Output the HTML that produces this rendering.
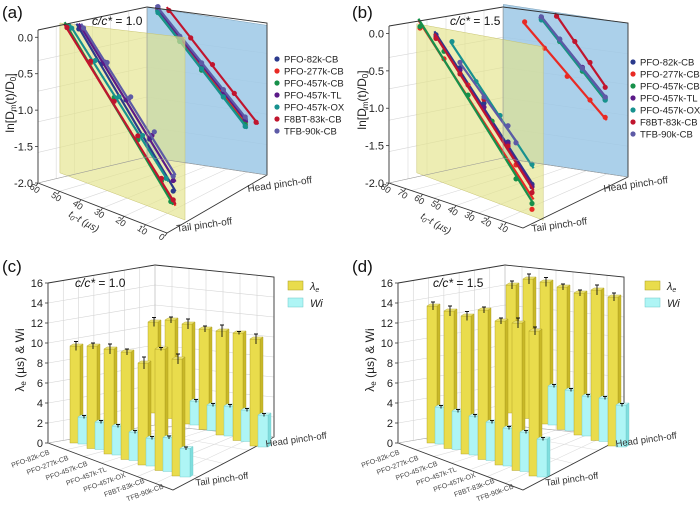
<!DOCTYPE html>
<html><head><meta charset="utf-8"><style>
html,body{margin:0;padding:0;background:#fff;}
svg{display:block;font-family:"Liberation Sans",sans-serif;}
</style></head><body>
<svg id="fig" width="700" height="506" viewBox="0 0 700 506"></svg>
<script>
const NS='http://www.w3.org/2000/svg';
const svg=document.getElementById('fig');
// ---------- data ----------
const seriesNames=['PFO-82k-CB','PFO-277k-CB','PFO-457k-CB','PFO-457k-TL','PFO-457k-OX','F8BT-83k-CB','TFB-90k-CB'];
const seriesColors=['#2b3a8c','#e82a24','#17904a','#5b1a88','#17918f','#c0152e','#5d5aa6'];
// panel a, tail pinch-off plane
const aTailT=[[45,35,25,15,5],[50,40,30,20,10,5],[50,40,30,20,10,6],[44,34,24,14,5],[48,38,28,18,8],[50,40,30,20,10,5],[43,33,23,13,5]];
const aTailV=[[0.0,-0.4,-0.8,-1.2,-1.72],[0.0,-0.42,-0.82,-1.22,-1.62,-1.85],[0.02,-0.4,-0.8,-1.25,-1.65,-1.85],[0.02,-0.38,-0.78,-1.15,-1.6],[0.0,-0.38,-0.78,-1.18,-1.6],[0.0,-0.4,-0.85,-1.2,-1.62,-1.82],[0.02,-0.38,-0.75,-1.1,-1.55]];
// panel a, head pinch-off plane
const aHeadT=[[50,40,30,20,10],[50,40,30,20,10],[50,40,30,20,10],[50,40,30,20,10],[50,40,30,20,10],[45,35,25,15,5],[50,40,30,20,10]];
const aHeadV=[[0.05,-0.3,-0.62,-0.95,-1.3],[0.02,-0.33,-0.66,-1.0,-1.33],[0.0,-0.35,-0.7,-1.02,-1.35],[0.05,-0.3,-0.62,-0.95,-1.28],[0.0,-0.35,-0.68,-1.02,-1.38],[0.05,-0.28,-0.6,-0.95,-1.3],[0.08,-0.28,-0.6,-0.92,-1.25]];
// panel b, tail plane
const bTailT=[[70,55,40,25,10],[80,65,50,35,20,10],[80,65,50,35,20,10],[70,55,40,25,10],[60,45,30,10],[70,55,40,25,10],[55,40,25,20]];
const bTailV=[[-0.05,-0.42,-0.8,-1.2,-1.62],[0.0,-0.35,-0.62,-1.0,-1.45,-1.92],[0.02,-0.25,-0.75,-1.0,-1.62,-1.85],[-0.08,-0.45,-0.85,-1.22,-1.65],[-0.1,-0.55,-0.9,-1.38],[-0.1,-0.5,-0.75,-1.25,-1.72],[-0.35,-0.72,-1.0,-1.18]];
// panel b, head plane
const bHeadT=[[57,45,30,15],[68,55,40,25,15],[57,45,30,15],[57,45,30,15],[57,45,30,15],[47,35,25,15],[57,45,30,15]];
const bHeadV=[[-0.05,-0.3,-0.65,-1.0],[-0.14,-0.45,-0.78,-1.05,-1.25],[-0.07,-0.33,-0.68,-1.02],[-0.05,-0.3,-0.63,-0.98],[-0.08,-0.32,-0.66,-1.02],[0.0,-0.3,-0.55,-0.85],[-0.04,-0.3,-0.64,-0.98]];
// panels c,d bars
const cTailLam=[9.7,10.25,10.5,10.75,10.2,12.15,11.7];
const cTailWi=[2.7,2.75,2.9,2.85,2.8,3.4,2.85];
const cHeadLam=[9.1,9.85,10.0,10.05,10.4,10.75,10.7];
const cHeadWi=[2.4,2.45,2.4,2.55,3.0,3.15,3.2];
const cLamErr=[0.45,0.3,0.5,0.3,0.6,0.15,0.5];
const dTailLam=[13.7,13.75,13.8,14.95,14.4,14.75,14.5];
const dTailWi=[3.7,3.85,3.9,3.85,3.8,3.95,3.8];
const dHeadLam=[12.8,13.95,14.2,14.25,14.2,15.05,14.9];
const dHeadWi=[3.3,3.65,3.9,4.05,4.0,4.35,4.2];
const dLamErr=[0.4,0.5,0.45,0.3,0.3,0.5,0.4];
const barTicks=[0,2,4,6,8,10,12,14,16];
const lnTicks=[0.0,-0.5,-1.0,-1.5,-2.0];
const aTimeTicks=[60,50,40,30,20,10,0];
const bTimeTicks=[80,70,60,50,40,30,20,10];

function mk(tag,attrs,parent){const e=document.createElementNS(NS,tag);for(const k in attrs)e.setAttribute(k,attrs[k]);(parent||svg).appendChild(e);return e;}
function txt(s,attrs,parent){const e=mk('text',attrs,parent);e.textContent=s;return e;}
function line(x1,y1,x2,y2,st,w,parent){return mk('line',{x1,y1,x2,y2,stroke:st,'stroke-width':w||1},parent);}

// ---------- 3D line panels (a),(b) ----------
function linePanel(P){
  const g=mk('g',{});
  
  
  const B=P.box;
  const grid=mk('g',{stroke:'#d8d8d8','stroke-width':0.6},g);
  
  
  for(let k=0;k<=5;k++){const f=k/5;
    const yl=B.yTop+(B.yBot-B.yTop)*f, yb=B.bTop+(B.bBot-B.bTop)*f, yr=B.rTop+(B.rBot-B.rTop)*f;
    line(B.x0,yl,B.xb,yb,'#d8d8d8',0.6,grid);line(B.xb,yb,B.xr,yr,'#d8d8d8',0.6,grid);}
  for(let k=1;k<6;k++){const f=k/6;
    line(B.x0+(B.xb-B.x0)*f,B.yTop+(B.bTop-B.yTop)*f,B.x0+(B.xb-B.x0)*f,B.yBot+(B.bBot-B.yBot)*f,'#d8d8d8',0.6,grid);
    line(B.x0+(B.xf-B.x0)*f,B.yBot+(B.fy-B.yBot)*f,B.xb+(B.xr-B.xb)*f,B.bBot+(B.rBot-B.bBot)*f,'#d8d8d8',0.6,grid);}
  const hp=[[P.tmax,0.05],[0,0.05],[0,-2],[P.tmax,-2]].map(q=>P.proj(q[0],q[1],1).join(',')).join(' ');
  const blue=mk('polygon',{points:hp,fill:'#9cc8e6','fill-opacity':0.85,stroke:'#7a9fb8','stroke-width':0.5},g);
  
  
  drawSeries(g,P,P.headT,P.headV,1);
  const tp=[[P.tmaxT,0.05],[P.tminT,0.05],[P.tminT,-2],[P.tmaxT,-2]].map(q=>P.proj(q[0],q[1],0).join(',')).join(' ');
  const yel=mk('polygon',{points:tp,fill:'#e3e38a','fill-opacity':0.65,stroke:'#c8c470','stroke-width':0.5},g);
  
  
  drawSeries(g,P,P.tailT,P.tailV,0);
  const ax=mk('g',{stroke:'#333','stroke-width':0.9,fill:'none'},g);
  
  
  mk('polyline',{points:`${B.x0},${B.yTop} ${B.xb},${B.bTop} ${B.xr},${B.rTop} ${B.xr},${B.rBot} ${B.xf},${B.fy} ${B.x0},${B.yBot} ${B.x0},${B.yTop}`},ax);
  mk('polyline',{points:`${B.x0},${B.yBot} ${B.xb},${B.bBot} ${B.xr},${B.rBot}`,stroke:'#999','stroke-width':0.6},ax);
  line(B.xb,B.bTop,B.xb,B.bBot,'#999',0.6,ax);
  lnTicks.forEach((v,i)=>{const y=B.yTop+(B.yBot-B.yTop)*(0.1-v)/2.1;
    line(B.x0-3,y,B.x0,y,'#333',0.8,g);
    const t=txt(v.toFixed(1),{x:B.x0-5,y:y+4,'font-size':11,'text-anchor':'end',fill:'#222'},g);
    
    });
  const tt=P.timeTicks, tm=tt[0];
  tt.forEach(t=>{const f=(tm-t)/tm;const x=B.x0+(B.xf-B.x0)*f, y=B.yBot+(B.fy-B.yBot)*f;
    line(x,y,x-2,y+3,'#333',0.8,g);
    const lx=x-9,ly=y+5;
    const e=txt(String(t),{x:lx,y:ly,'font-size':9,fill:'#333',transform:`rotate(35 ${lx} ${ly})`},g);
    
    });
  const xt=txt('t',{x:P.xtx,y:P.xty,'font-size':10,'font-style':'italic',fill:'#333',transform:`rotate(30 ${P.xtx} ${P.xty})`},g);
  
  
  const ts1=mk('tspan',{'font-size':7,dy:2},xt);ts1.textContent='0';
  const ts2=mk('tspan',{dy:-2},xt);ts2.textContent='-t (µs)';
  const tl=txt('Tail pinch-off',{x:P.tailLx,y:P.tailLy,'font-size':10,fill:'#333',transform:`rotate(-8 ${P.tailLx} ${P.tailLy})`},g);
  
  
  const hl=txt('Head pinch-off',{x:P.headLx,y:P.headLy,'font-size':10,fill:'#333',transform:`rotate(-8 ${P.headLx} ${P.headLy})`},g);
  
  
  const yt=txt('',{x:P.ytx,y:P.yty,'font-size':12,fill:'#222','text-anchor':'middle',transform:`rotate(-90 ${P.ytx} ${P.yty})`},g);
  
  
  [['ln[D',0],['m',2],['(t)/D',-2],['0',2],[']',-2]].forEach(p=>{const s=mk('tspan',{dy:p[1]},yt);if(p[0]=='m'||p[0]=='0')s.setAttribute('font-size',8);s.textContent=p[0];});
  const pl=txt(P.letter,{x:P.ox+2,y:18,'font-size':17,fill:'#111'},g);
  
  
  const ti=txt('',{x:P.titx,y:25,'font-size':12,fill:'#111'},g);
  
  
  const a1=mk('tspan',{'font-style':'italic'},ti);a1.textContent='c/c*';
  const a2=mk('tspan',{},ti);a2.textContent=' = '+P.conc;
  seriesNames.forEach((n,i)=>{const y=P.legY+i*12;
    const c=mk('circle',{cx:P.legX,cy:y,r:2.6,fill:seriesColors[i]},g);
    
    
    const t=txt(n,{x:P.legX+7,y:y+3.5,'font-size':9.5,fill:'#222'},g);
    
    });
}
function drawSeries(g,P,T,V,row){
  T.forEach((ts,i)=>{
    const vs=V[i];const n=ts.length;
    let mt=0,mv=0;for(let k=0;k<n;k++){mt+=ts[k];mv+=vs[k];}mt/=n;mv/=n;
    let sxy=0,sxx=0;for(let k=0;k<n;k++){sxy+=(ts[k]-mt)*(vs[k]-mv);sxx+=(ts[k]-mt)**2;}
    const b=sxy/sxx,a=mv-b*mt;
    const t0=Math.max(...ts)+1,t1=Math.min(...ts)-1;
    const p0=P.proj(t0,a+b*t0,row),p1=P.proj(t1,a+b*t1,row);
    const l=line(p0[0],p0[1],p1[0],p1[1],seriesColors[i],2.2,g);
    
    
    ts.forEach((t,k)=>{const p=P.proj(t,vs[k],row);
      const c=mk('circle',{cx:p[0],cy:p[1],r:2.6,fill:seriesColors[i]},g);
      
      });
  });
}
linePanel({name:'panel-a',letter:'(a)',conc:'1.0',ox:0,titx:92,tmax:55,tmaxT:53,tminT:0,
  proj:(t,v,r)=>r==0?[185-2.36*t,220-0.89*t-(v+2)*(89-0.3*t)]:[267-2.18*t,175-0.33*t-(v+2)*73],
  tailT:aTailT,tailV:aTailV,headT:aHeadT,headV:aHeadV,timeTicks:aTimeTicks,
  box:{x0:38,yTop:30,yBot:183,xb:147,bTop:7,bBot:157,xr:267,rTop:23,rBot:175,xf:167,fy:233},
  xtx:68,xty:216,tailLx:177,tailLy:232,headLx:248,headLy:192,ytx:14,yty:103,legX:277,legY:59});
linePanel({name:'panel-b',letter:'(b)',conc:'1.5',ox:350,titx:450,tmax:82,tmaxT:82,tminT:3,
  proj:(t,v,r)=>r==0?[548-1.6*t,222-0.6*t-(v+2)*(85-0.15*t)]:[628-1.52*t,177-0.23*t-(v+2)*75],
  tailT:bTailT,tailV:bTailV,headT:bHeadT,headV:bHeadV,timeTicks:bTimeTicks,
  box:{x0:389,yTop:26,yBot:183,xb:503,bTop:7,bBot:158,xr:628,rTop:23,rBot:177,xf:523,fy:228},
  xtx:420,xty:218,tailLx:532,tailLy:232,headLx:604,headLy:192,ytx:366,yty:100,legX:633,legY:62});

// ---------- 3D bar panels (c),(d) ----------
function barPanel(P){
  const g=mk('g',{});
  
  
  const o=P.ox, yv=v=>v*10;
  barTicks.forEach(v=>{
    line(o+48,443-yv(v),o+155,425-yv(v),'#d4d4d4',0.6,g);
    line(o+155,425-yv(v),o+274,437-yv(v),'#d4d4d4',0.6,g);});
  for(let k=1;k<7;k++){const f=k/7;
    line(o+48+107*f,283-18*f,o+48+107*f,443-18*f,'#d4d4d4',0.6,g);
    line(o+155+119*f,265+12*f,o+155+119*f,425+12*f,'#d4d4d4',0.6,g);
    line(o+48+125*f,443+47*f,o+155+119*f,425+12*f,'#dcdcdc',0.6,g);}
  for(let k=1;k<4;k++){const f=k/4;
    line(o+48+107*f,443-18*f,o+173+101*f,490-53*f,'#dcdcdc',0.6,g);}
  const ax=mk('g',{stroke:'#333','stroke-width':0.9,fill:'none'},g);
  
  
  mk('polyline',{points:`${o+48},283 ${o+155},265 ${o+274},277 ${o+274},437 ${o+173},490 ${o+48},443 ${o+48},283`},ax);
  mk('polyline',{points:`${o+48},443 ${o+155},425 ${o+274},437`,stroke:'#aaa','stroke-width':0.6},ax);
  line(o+155,265,o+155,425,'#aaa',0.6,ax);
  barTicks.forEach(v=>{const y=443-yv(v);
    line(o+45,y,o+48,y,'#333',0.8,g);
    const t=txt(String(v),{x:o+43,y:y+4,'font-size':11,'text-anchor':'end',fill:'#222'},g);
    
    });
  function bar(x,yb,v,w,front,side,top,edge,err){
    const h=yv(v),d=[3,-2];
    const s=mk('polygon',{points:`${x+w},${yb-h} ${x+w+d[0]},${yb-h+d[1]} ${x+w+d[0]},${yb+d[1]} ${x+w},${yb}`,fill:side,stroke:edge,'stroke-width':0.4},g);
    
    
    const r=mk('rect',{x,y:yb-h,width:w,height:h,fill:front,stroke:edge,'stroke-width':0.4},g);
    
    
    const tp=mk('polygon',{points:`${x},${yb-h} ${x+d[0]},${yb-h+d[1]} ${x+w+d[0]},${yb-h+d[1]} ${x+w},${yb-h}`,fill:top,stroke:edge,'stroke-width':0.4},g);
    
    
    const cx=x+w/2+1,e=yv(err);
    const eb=mk('path',{d:`M${cx},${yb-h-e}V${yb-h+e}M${cx-2},${yb-h-e}H${cx+2}`,stroke:'#111','stroke-width':0.9,fill:'none'},g);
    
    
  }
  const Y=['#e9dc4c','#c8b828','#f3ea7a','#a89a20'],C=['#aef5f5','#80dede','#d2fbfb','#6cc8c8'];
  for(let i=0;i<7;i++){const x=o+P.x0+P.hdx+i*17,yb=413+i*5.5;
    bar(x,yb,P.hLam[i],10,...Y,P.err[i]);bar(x+8,yb+1,P.hWi[i],10,...C,0.15);}
  for(let i=0;i<7;i++){const x=o+P.x0+i*17,yb=443+i*5.5;
    bar(x,yb,P.tLam[i],10,...Y,P.err[i]);bar(x+8,yb+1,P.tWi[i],10,...C,0.15);}
  seriesNames.forEach((n,i)=>{const x=o+50+i*19,y=454+i*5.7;
    const t=txt(n,{x,y,'font-size':7,'text-anchor':'end',fill:'#444',transform:`rotate(-20 ${x} ${y})`},g);
    
    });
  const tl=txt('Tail pinch-off',{x:o+196,y:486,'font-size':9.5,fill:'#333',transform:`rotate(-8 ${o+196} 486)`},g);
  
  
  const hl=txt('Head pinch-off',{x:o+266,y:447,'font-size':9.5,fill:'#333',transform:`rotate(-8 ${o+266} 447)`},g);
  
  
  const yt=txt('',{x:o+24,y:360,'font-size':12,fill:'#222','text-anchor':'middle',transform:`rotate(-90 ${o+24} 360)`},g);
  
  
  [['λ',0],['e',2],[' (µs) & Wi',-2]].forEach(p=>{const s=mk('tspan',{dy:p[1]},yt);if(p[0]=='e')s.setAttribute('font-size',8);s.textContent=p[0];});
  const pl=txt(P.letter,{x:o+2,y:272,'font-size':17,fill:'#111'},g);
  
  
  const ti=txt('',{x:o+P.titx,y:287,'font-size':12,fill:'#111'},g);
  
  
  const a1=mk('tspan',{'font-style':'italic'},ti);a1.textContent='c/c*';
  const a2=mk('tspan',{},ti);a2.textContent=' = '+P.conc;
  const lx=o+P.legx;
  const s1=mk('rect',{x:lx,y:281,width:15,height:9,fill:'#e9dc4c',stroke:'#a89a20','stroke-width':0.5},g);
  
  
  const t1=txt('',{x:lx+22,y:290,'font-size':11,'font-style':'italic',fill:'#222'},g);
  
  
  const u1=mk('tspan',{},t1);u1.textContent='λ';const u2=mk('tspan',{'font-size':7,dy:2},t1);u2.textContent='e';
  const s2=mk('rect',{x:lx,y:298,width:15,height:9,fill:'#aef5f5',stroke:'#6cc8c8','stroke-width':0.5},g);
  
  
  const t2=txt('Wi',{x:lx+22,y:307,'font-size':11,'font-style':'italic',fill:'#222'},g);
  
  
}
barPanel({name:'panel-c',letter:'(c)',conc:'1.0',ox:0,x0:70,hdx:78,titx:75,legx:288,
  tLam:cTailLam,tWi:cTailWi,hLam:cHeadLam,hWi:cHeadWi,err:cLamErr});
barPanel({name:'panel-d',letter:'(d)',conc:'1.5',ox:350,x0:77,hdx:79,titx:83,legx:295,
  tLam:dTailLam,tWi:dTailWi,hLam:dHeadLam,hWi:dHeadWi,err:dLamErr});
</script>
</body></html>
